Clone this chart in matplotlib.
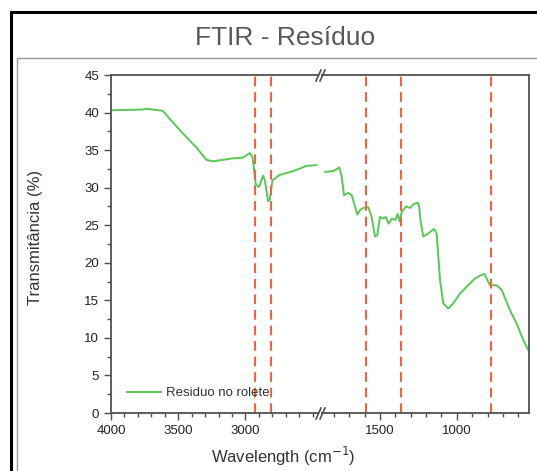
import matplotlib
matplotlib.use("Agg")
import matplotlib.pyplot as plt
from matplotlib.patches import Rectangle
from matplotlib.ticker import MultipleLocator, FixedLocator

plt.rcParams['font.family'] = ['Liberation Sans', 'DejaVu Sans']

# ---- data ----
wn_high = [4000, 3766, 3737, 3617, 3490, 3363, 3289, 3244, 3095, 3019, 2968, 2948,
           2938, 2923, 2898, 2869, 2856, 2831, 2819, 2798, 2744, 2645, 2545, 2470]
tr_high = [40.3, 40.4, 40.5, 40.25, 37.7, 35.3, 33.7, 33.5, 33.9, 34.0, 34.6, 34.1,
           32.8, 30.4, 30.1, 31.6, 31.0, 28.2, 28.4, 31.0, 31.7, 32.2, 32.9, 33.0]

wn_low = [1857, 1803, 1764, 1749, 1734, 1706, 1684, 1662, 1647, 1630, 1608, 1576,
          1554, 1532, 1517, 1500, 1478, 1461, 1444, 1422, 1400, 1385, 1372, 1358,
          1330, 1304, 1282, 1254, 1245, 1235, 1218, 1186, 1148, 1131, 1109, 1088,
          1055, 1023, 979, 936, 882, 838, 821, 805, 784, 740, 708, 654, 610, 567, 535]
tr_low = [32.1, 32.2, 32.7, 31.5, 29.0, 29.3, 29.0, 27.5, 26.4, 27.0, 27.3, 27.4,
          26.1, 23.5, 23.7, 26.1, 25.9, 26.1, 25.2, 25.9, 25.7, 26.5, 25.5, 26.8,
          27.5, 27.3, 27.8, 28.0, 27.5, 25.5, 23.5, 23.9, 24.5, 23.9, 17.7, 14.6,
          13.9, 14.6, 15.9, 16.8, 17.9, 18.4, 18.5, 17.9, 17.0, 17.0, 16.4, 13.7,
          11.9, 9.7, 8.4]

marker_lines = [2925, 2810, 1590, 1360, 780]
ticks_high = [4000, 3500, 3000]
ticks_low = [1500, 1000]
series_label = "Residuo no rolete"
title = "FTIR - Resíduo"
ylabel = "Transmitância (%)"
xlabel = "Wavelength (cm$^{-1}$)"

W, H = 537, 471
fig = plt.figure(figsize=(W / 100, H / 100), dpi=100)

# decorative frames
fig.patches.append(Rectangle((11 / W, -0.1), 2, 1 - 12 / H + 0.1, transform=fig.transFigure,
                             fill=False, edgecolor='black', linewidth=2.2, zorder=0))
fig.patches.append(Rectangle((17 / W, -0.1), 2, 1 - 58 / H + 0.1, transform=fig.transFigure,
                             fill=False, edgecolor='#999999', linewidth=1.0, zorder=0))

fig.text(285 / W, 1 - 38 / H, title, ha='center', va='center', fontsize=19, color='#595959')

bottom = 1 - 413 / H
height = (413 - 75) / H
axL = fig.add_axes([111 / W, bottom, 207 / W, height])
axR = fig.add_axes([322 / W, bottom, 207 / W, height], sharey=axL)

green = '#55C855'
red = '#FF5A36'
spc = '#505050'

for ax in (axL, axR):
    ax.plot(wn_high, tr_high, color=green, lw=1.4, label=series_label)
    ax.plot(wn_low, tr_low, color=green, lw=1.4)
    for m in marker_lines:
        ax.axvline(m, color=red, lw=1.4, ls=(0, (5, 3)))
    for s in ax.spines.values():
        s.set_color(spc)
        s.set_linewidth(1.3)
    ax.tick_params(which='both', direction='out', colors=spc, labelcolor='#222222',
                   labelsize=9.5, width=1.0)
    ax.tick_params(which='major', length=5)
    ax.tick_params(which='minor', length=3)
    ax.xaxis.set_minor_locator(MultipleLocator(100))

axL.xaxis.set_major_locator(FixedLocator(ticks_high))
axR.xaxis.set_major_locator(FixedLocator(ticks_low))
axL.set_xlim(4000, 2460)
axR.set_xlim(1877, 530)
axL.set_ylim(0, 45)
axL.yaxis.set_major_locator(MultipleLocator(5))
axL.yaxis.set_minor_locator(MultipleLocator(2.5))
axL.spines['right'].set_visible(False)
axR.spines['left'].set_visible(False)
axR.tick_params(axis='y', which='both', left=False, labelleft=False)

# break marks
kw = dict(marker=[(-0.45, -1), (0.45, 1)], markersize=9, linestyle='none',
          color=spc, mec=spc, mew=1.2, clip_on=False)
axL.plot([1, 1], [0, 1], transform=axL.transAxes, **kw)
axR.plot([0, 0], [0, 1], transform=axR.transAxes, **kw)

axL.legend(loc='center left', bbox_to_anchor=(0.045, 0.059), frameon=False,
           fontsize=9.5, handlelength=2.6, handletextpad=0.4, borderpad=0,
           labelcolor='#333333')

fig.text(283 / W, 1 - 456 / H, xlabel, ha='center', va='center', fontsize=12, color='#333333')
fig.text(36 / W, 1 - 237 / H, ylabel, ha='center', va='center', rotation=90,
         fontsize=12, color='#333333')

fig.savefig('out.png', dpi=100)
